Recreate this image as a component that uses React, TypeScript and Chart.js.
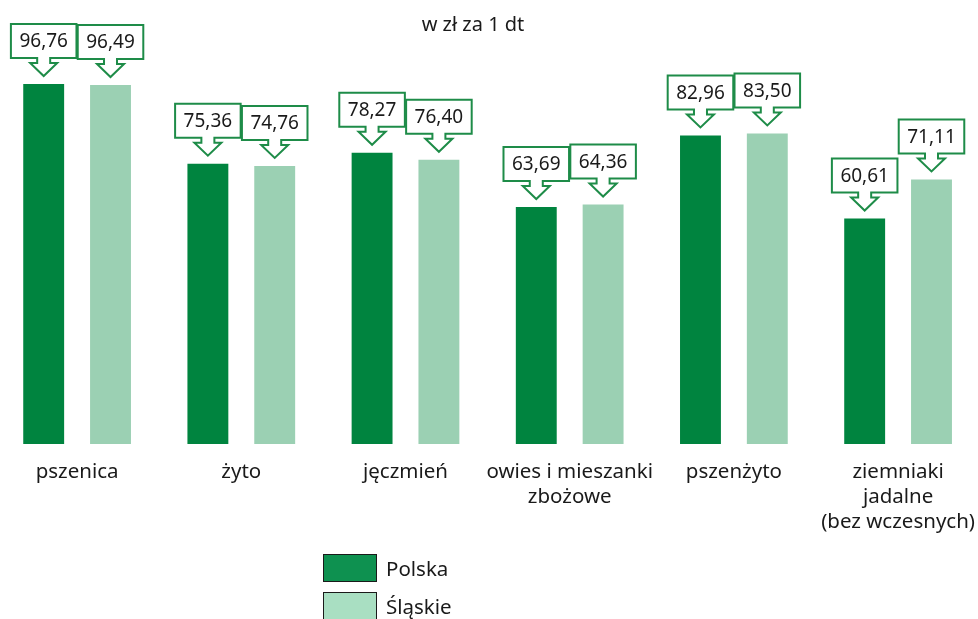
import React, { useEffect, useRef } from "react";
import { Chart, registerables } from "chart.js";

Chart.register(...registerables);

const categories: string[][] = [
  ["pszenica"],
  ["żyto"],
  ["jęczmień"],
  ["owies i mieszanki", "zbożowe"],
  ["pszenżyto"],
  ["ziemniaki", "jadalne", "(bez wczesnych)"],
];
const polska = [96.76, 75.36, 78.27, 63.69, 82.96, 60.61];
const slaskie = [96.49, 74.76, 76.4, 64.36, 83.5, 71.11];
const seriesNames = ["Polska", "Śląskie"];
const unitTitle = "w zł za 1 dt";

const FONT = "'Noto Sans', sans-serif";
const TEXT = "#1a1a1a";
const BAR_COLORS = ["#00843f", "#9bd0b3"];
const LEGEND_COLORS = ["#0e9150", "#a9dfc2"];
const CALLOUT = "#1e8c48";

const fmt = (v: number) => v.toFixed(2).replace(".", ",");

const calloutPlugin = {
  id: "callouts",
  afterDatasetsDraw(chart: any) {
    const ctx = chart.ctx;
    ctx.save();
    ctx.font = `19px ${FONT}`;
    chart.data.datasets.forEach((ds: any, di: number) => {
      const meta = chart.getDatasetMeta(di);
      meta.data.forEach((bar: any, i: number) => {
        const x = bar.x;
        const top = bar.y;
        const text = fmt(ds.data[i]);
        const tw = ctx.measureText(text).width;
        const bw = tw + 17;
        const boxTop = top - 60;
        const boxBot = top - 26;
        const l = x - bw / 2;
        const r = x + bw / 2;
        const stemHalf = 6.5;
        const stemBot = boxBot + 5;
        const triHalf = 13.5;
        const tip = top - 8;
        ctx.beginPath();
        ctx.moveTo(l, boxTop);
        ctx.lineTo(r, boxTop);
        ctx.lineTo(r, boxBot);
        ctx.lineTo(x + stemHalf, boxBot);
        ctx.lineTo(x + stemHalf, stemBot);
        ctx.lineTo(x + triHalf, stemBot);
        ctx.lineTo(x, tip);
        ctx.lineTo(x - triHalf, stemBot);
        ctx.lineTo(x - stemHalf, stemBot);
        ctx.lineTo(x - stemHalf, boxBot);
        ctx.lineTo(l, boxBot);
        ctx.closePath();
        ctx.fillStyle = "#ffffff";
        ctx.fill();
        ctx.lineWidth = 2;
        ctx.strokeStyle = CALLOUT;
        ctx.stroke();
        ctx.fillStyle = TEXT;
        ctx.textAlign = "center";
        ctx.textBaseline = "middle";
        ctx.fillText(text, x, (boxTop + boxBot) / 2 + 1);
      });
    });
    ctx.restore();
  },
};

const titleLegendPlugin = {
  id: "titleLegend",
  afterDraw(chart: any) {
    const ctx = chart.ctx;
    ctx.save();
    ctx.font = `20px ${FONT}`;
    ctx.fillStyle = TEXT;
    ctx.textAlign = "center";
    ctx.textBaseline = "middle";
    ctx.fillText(unitTitle, 478, 25);

    const lx = 328;
    const ly = 554;
    seriesNames.forEach((name, i) => {
      const y = ly + i * 38;
      ctx.fillStyle = LEGEND_COLORS[i];
      ctx.fillRect(lx, y, 54, 28);
      ctx.lineWidth = 1;
      ctx.strokeStyle = TEXT;
      ctx.strokeRect(lx + 0.5, y + 0.5, 53, 27);
      ctx.fillStyle = TEXT;
      ctx.textAlign = "left";
      ctx.font = `20.5px ${FONT}`;
      ctx.fillText(name, lx + 63, y + 16);
    });
    ctx.restore();
  },
};

export default function App() {
  const ref = useRef<HTMLCanvasElement | null>(null);
  useEffect(() => {
    if (!ref.current) return;
    const chart = new Chart(ref.current, {
      type: "bar",
      data: {
        labels: categories as any,
        datasets: [
          {
            label: seriesNames[0],
            data: polska,
            backgroundColor: BAR_COLORS[0],
          },
          {
            label: seriesNames[1],
            data: slaskie,
            backgroundColor: BAR_COLORS[1],
          },
        ],
      },
      options: {
        responsive: false,
        animation: false,
        layout: { padding: { top: 72, bottom: 75, left: 0, right: 0 } },
        datasets: { bar: { categoryPercentage: 0.814, barPercentage: 0.612 } } as any,
        plugins: {
          legend: { display: false },
          title: { display: false },
          tooltip: { enabled: false },
        },
        scales: {
          x: {
            offset: true,
            grid: { display: false },
            border: { display: false },
            ticks: {
              color: TEXT,
              font: { family: FONT, size: 20.5, lineHeight: 1.22 },
              padding: 8,
              maxRotation: 0,
              autoSkip: false,
            },
            afterFit: (scale: any) => {
              scale.height = 100;
            },
          },
          y: {
            display: false,
            min: 0,
            max: 100,
          },
        },
      },
      plugins: [calloutPlugin, titleLegendPlugin],
    });
    return () => chart.destroy();
  }, []);
  return (
    <div style={{ position: "absolute", left: -5, top: 0, width: 988, height: 619 }}>
      <canvas ref={ref} width={988} height={619} />
    </div>
  );
}
